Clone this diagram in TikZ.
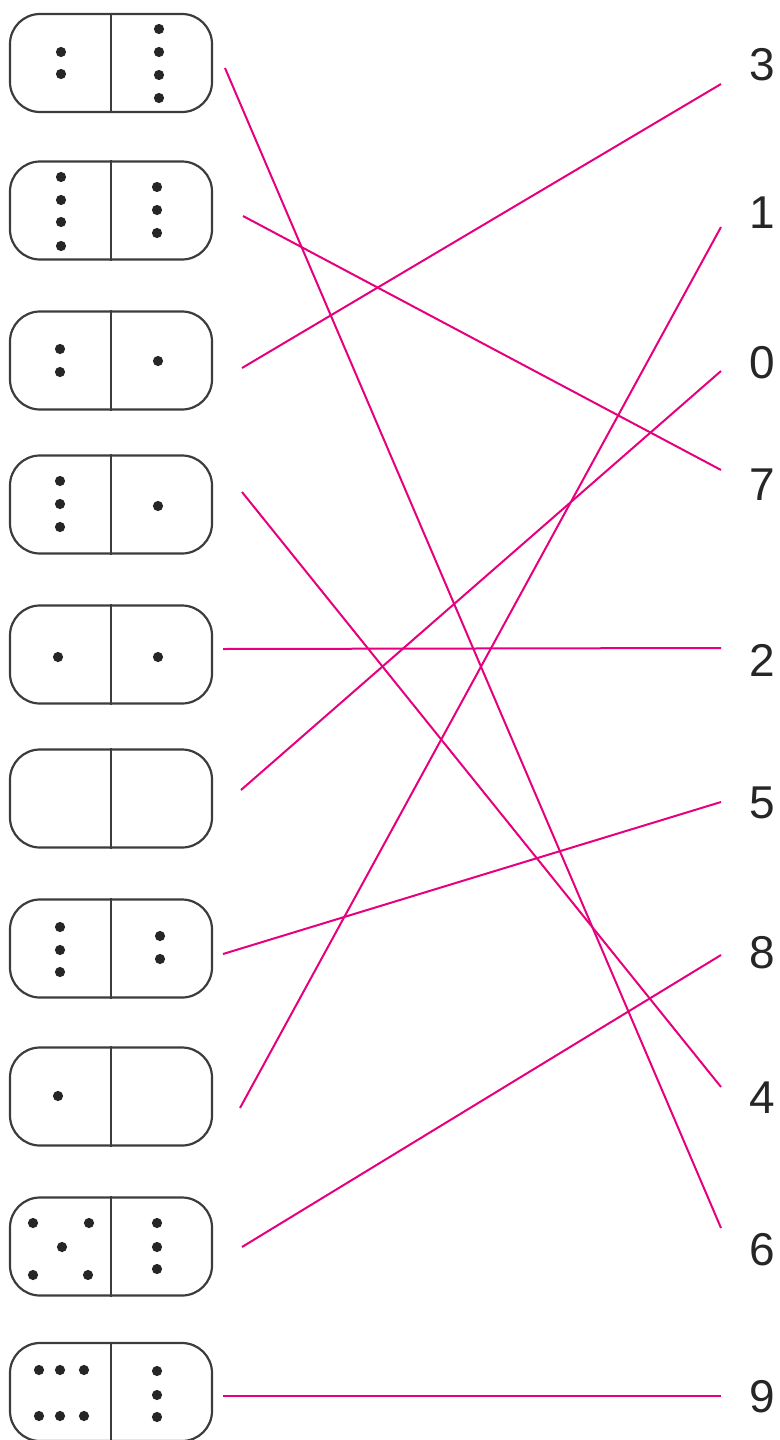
\documentclass[tikz,border=0pt]{standalone}
\usepackage{fontspec}
\setmainfont{Liberation Sans}
\definecolor{mag}{HTML}{E6007E}
\definecolor{ink}{HTML}{3C3C3C}
\begin{document}
\begin{tikzpicture}[x=0.5pt,y=-0.5pt,
  domino/.style={draw=ink, line width=1.1pt, rounded corners=15pt, minimum width=101pt, minimum height=49pt, inner sep=0pt},
  divider/.style={draw=ink, line width=0.7pt},
  pip/.style={fill=black!85},
  num/.style={font=\fontsize{23}{23}\selectfont, text=black!85, inner sep=0pt},
  link/.style={draw=mag, line width=1pt}]
\useasboundingbox (0,0) rectangle (780,1440);
\clip (0,0) rectangle (780,1440);
\newcommand{\pips}[1]{\foreach \px/\py in {#1} {\fill[pip] (\px,\py) circle[radius=2.55pt];}}
% dominoes
\foreach \i/\cy in {1/63,2/210.5,3/360.5,4/504.5,5/654.5,6/798.5,7/948.5,8/1096.5,9/1246.5,10/1392}{
  \node[domino] (d\i) at (111,\cy) {};
  \draw[divider] (d\i.north) -- (d\i.south);
}
% pips
\pips{61/52,61/74,159/29,159/52,159/75,159/98}
\pips{61/177,61/200,61/222,61/246,157/187,157/210,157/233}
\pips{60/349,60/372,158/361}
\pips{60/481,60/504,60/527,158/506}
\pips{58/657,158/657}
\pips{60/927,60/950,60/972,160/936,160/959}
\pips{58/1096}
\pips{33/1223,89/1223,62/1247,33/1275,88/1275,157/1223,157/1247,157/1269}
\pips{39/1370,60/1370,84/1370,39/1416,60/1416,84/1416,157/1371,157/1395,157/1417}
% numbers
\node[num] (n3) at (762,65) {3};
\node[num] (n1) at (762,213) {1};
\node[num] (n0) at (762,363) {0};
\node[num] (n7) at (762,485) {7};
\node[num] (n2) at (762,660) {2};
\node[num] (n5) at (762,803) {5};
\node[num] (n8) at (762,953) {8};
\node[num] (n4) at (762,1098) {4};
\node[num] (n6) at (762,1250) {6};
\node[num] (n9) at (762,1397) {9};
% connector ends
\coordinate (s1) at (225,68);
\coordinate (s2) at (243,216);
\coordinate (s3) at (242,368);
\coordinate (s4) at (242,492);
\coordinate (s5) at (223,649);
\coordinate (s6) at (241,790);
\coordinate (s7) at (223,954);
\coordinate (s8) at (240,1108);
\coordinate (s9) at (242,1247);
\coordinate (s10) at (223,1396);
\coordinate (e3) at (721,84);
\coordinate (e1) at (721,227);
\coordinate (e0) at (721,371);
\coordinate (e7) at (721,470);
\coordinate (e2) at (721,648);
\coordinate (e5) at (721,802);
\coordinate (e8) at (721,955);
\coordinate (e4) at (721,1087);
\coordinate (e6) at (721,1228);
\coordinate (e9) at (721,1396);
% connectors
\draw[link] (s1) -- (e6);
\draw[link] (s2) -- (e7);
\draw[link] (s3) -- (e3);
\draw[link] (s4) -- (e4);
\draw[link] (s5) -- (e2);
\draw[link] (s6) -- (e0);
\draw[link] (s7) -- (e5);
\draw[link] (s8) -- (e1);
\draw[link] (s9) -- (e8);
\draw[link] (s10) -- (e9);
\end{tikzpicture}
\end{document}
